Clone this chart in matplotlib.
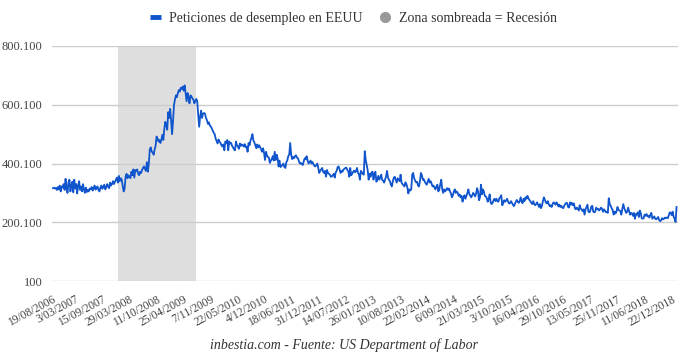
import numpy as np
import pandas as pd
import matplotlib
matplotlib.use("Agg")
import matplotlib.pyplot as plt
from matplotlib.lines import Line2D

# weekly initial claims (thousands), one list per year
c2006 = [316, 318, 315, 317, 310, 320, 312, 325, 305, 322, 318, 330, 310, 348, 320, 300, 335, 345, 305, 325]
c2007 = [338, 302, 345, 315, 330, 298, 325, 340, 310, 322, 305, 330, 312, 300, 318, 303, 310, 305, 315, 312,
         320, 308, 316, 325, 311, 318, 322, 310, 305, 318, 325, 314, 320, 328, 312, 318, 330, 322, 316, 335,
         325, 330, 340, 330, 338, 345, 352, 335, 358, 340, 350, 345]
c2008 = [325, 305, 315, 355, 365, 350, 360, 355, 350, 372, 360, 380, 352, 378, 375, 380, 365, 360, 372, 368,
         378, 385, 390, 382, 375, 405, 372, 400, 448, 455, 440, 438, 430, 448, 460, 492, 485, 475, 480, 470,
         482, 498, 480, 518, 542, 530, 515, 575, 555, 586, 548, 500]
c2009 = [545, 600, 618, 632, 626, 640, 650, 645, 658, 654, 662, 648, 666, 640, 612, 640, 625, 605, 632, 628,
         622, 618, 605, 612, 620, 612, 565, 525, 560, 580, 555, 570, 572, 570, 555, 548, 535, 540, 530, 526,
         520, 512, 505, 500, 485, 476, 468, 482, 475, 470, 462, 458]
c2010 = [465, 445, 475, 470, 480, 445, 475, 468, 470, 460, 455, 448, 445, 475, 462, 458, 450, 468, 460, 465,
         462, 458, 466, 455, 458, 440, 470, 462, 478, 488, 500, 478, 472, 462, 452, 465, 455, 462, 455, 448,
         440, 452, 436, 412, 440, 428, 422, 420, 402, 410, 415, 425]
c2011 = [410, 440, 412, 430, 418, 390, 410, 388, 392, 395, 400, 388, 385, 405, 410, 425, 430, 470, 430, 415,
         422, 418, 425, 428, 420, 418, 408, 400, 402, 398, 395, 408, 418, 415, 425, 410, 400, 405, 410, 400,
         405, 398, 392, 390, 395, 400, 385, 368, 375, 380, 385, 372, 368]
c2012 = [375, 355, 378, 368, 365, 362, 355, 356, 360, 365, 352, 370, 375, 388, 390, 380, 368, 375, 372, 380,
         382, 385, 386, 378, 374, 355, 385, 360, 365, 372, 376, 370, 375, 385, 368, 364, 345, 375, 370, 365,
         362, 442, 412, 395, 378, 345, 365, 355, 370, 372, 345, 365]
c2013 = [372, 338, 345, 358, 345, 352, 362, 344, 342, 335, 345, 356, 375, 352, 345, 340, 328, 322, 340, 352,
         355, 345, 335, 350, 345, 340, 362, 335, 330, 326, 322, 336, 330, 318, 298, 312, 308, 312, 362, 368,
         350, 342, 336, 338, 325, 322, 340, 368, 360, 345, 346, 338]
c2014 = [332, 328, 338, 348, 335, 340, 332, 322, 325, 318, 312, 322, 328, 305, 312, 330, 345, 312, 300, 312,
         305, 310, 316, 310, 315, 305, 298, 285, 292, 305, 312, 300, 305, 300, 290, 295, 285, 290, 270, 285,
         292, 280, 290, 300, 312, 296, 290, 285, 292, 300, 295, 288]
c2015 = [298, 316, 305, 275, 285, 328, 295, 312, 305, 290, 288, 282, 270, 280, 295, 268, 262, 266, 275, 280,
         272, 280, 272, 270, 282, 285, 292, 258, 265, 275, 270, 274, 280, 270, 264, 265, 272, 266, 260, 255,
         262, 270, 276, 270, 266, 272, 285, 270, 265, 280, 272, 285]
c2016 = [280, 290, 282, 276, 272, 266, 262, 272, 262, 258, 262, 268, 260, 252, 262, 248, 256, 272, 285, 276,
         268, 264, 272, 262, 255, 258, 252, 262, 268, 264, 260, 268, 262, 254, 260, 252, 256, 250, 248, 256,
         262, 266, 265, 252, 250, 268, 260, 266, 258, 264, 248, 244, 250]
c2017 = [246, 240, 258, 246, 244, 238, 244, 226, 244, 252, 260, 236, 234, 240, 254, 256, 236, 234, 236, 250,
         244, 246, 240, 244, 250, 246, 236, 244, 240, 234, 236, 232, 282, 262, 256, 248, 242, 226, 236, 230,
         238, 252, 242, 240, 238, 226, 246, 262, 248, 240, 232, 236]
c2018 = [250, 238, 226, 232, 230, 222, 232, 212, 228, 226, 234, 218, 240, 232, 214, 212, 214, 226, 222, 228,
         220, 222, 216, 226, 232, 212, 216, 220, 212, 210, 214, 218, 208, 204, 206, 214, 210, 212, 216, 214,
         216, 214, 224, 234, 232, 224, 236, 218, 212, 201, 252]

first_week = "2006-08-19"
rec_start = "2007-12-01"
rec_end = "2009-06-20"

x_labels = ["19/08/2006", "3/03/2007", "15/09/2007", "29/03/2008", "11/10/2008", "25/04/2009",
            "7/11/2009", "22/05/2010", "4/12/2010", "18/06/2011", "31/12/2011", "14/07/2012",
            "26/01/2013", "10/08/2013", "22/02/2014", "6/09/2014", "21/03/2015", "3/10/2015",
            "16/04/2016", "29/10/2016", "13/05/2017", "25/11/2017", "11/06/2018", "22/12/2018"]
y_ticks = [100, 200100, 400100, 600100, 800100]

claims = np.array(c2006 + c2007 + c2008 + c2009 + c2010 + c2011 + c2012 + c2013
                  + c2014 + c2015 + c2016 + c2017 + c2018) * 1000
weeks = pd.date_range(first_week, periods=len(claims), freq="7D")
idx = np.arange(len(claims))

plt.rcParams['font.family'] = ['Liberation Serif', 'DejaVu Serif']

fig = plt.figure(figsize=(6.8, 3.58), dpi=100)
ax = fig.add_axes([52 / 680, 77 / 358, 626 / 680, 235 / 358])

blue = '#1155cc'
shade = '#dedede'

r0 = weeks.searchsorted(pd.Timestamp(rec_start))
r1 = weeks.searchsorted(pd.Timestamp(rec_end))
ax.axvspan(r0, r1, color=shade, lw=0, zorder=0)

ax.plot(idx, claims, color=blue, lw=1.3, zorder=3)

ax.set_yticks(y_ticks)
ax.set_yticklabels([f"{v:,}".replace(",", ".") for v in y_ticks], fontsize=9, color='#444444')
# tick marks are hidden; labels sit a few weeks left so their rotated ends meet the point
ax.set_xticks(np.maximum(np.arange(0, len(claims), 28) - 5, -1))
ax.set_xticklabels(x_labels, rotation=28, ha='right', va='top', rotation_mode='anchor',
                   fontsize=8.3, color='#444444')
ax.set_ylim(100, 800100)
ax.set_xlim(-1, len(claims) + 0.5)
ax.tick_params(axis='both', length=0)
ax.tick_params(axis='x', pad=9)
ax.tick_params(axis='y', pad=7)
ax.grid(axis='y', color='#cccccc', lw=1)
ax.set_axisbelow(True)
for s in ax.spines.values():
    s.set_visible(False)

handles = [Line2D([], [], color=blue, lw=3.5, solid_capstyle='butt'),
           Line2D([], [], color='#999999', marker='o', ls='none', markersize=7)]
fig.legend(handles, ["Peticiones de desempleo en EEUU", "Zona sombreada = Recesión"],
           loc='center', bbox_to_anchor=(0.52, 0.948), ncol=2, frameon=False,
           fontsize=10, handlelength=0.8, handletextpad=0.6, columnspacing=1.2,
           labelcolor='#333333')

fig.text(0.506, 0.036, "inbestia.com - Fuente: US Department of Labor", ha='center', va='center',
         fontsize=10, style='italic', color='#333333')

fig.savefig("out.png", dpi=100)
